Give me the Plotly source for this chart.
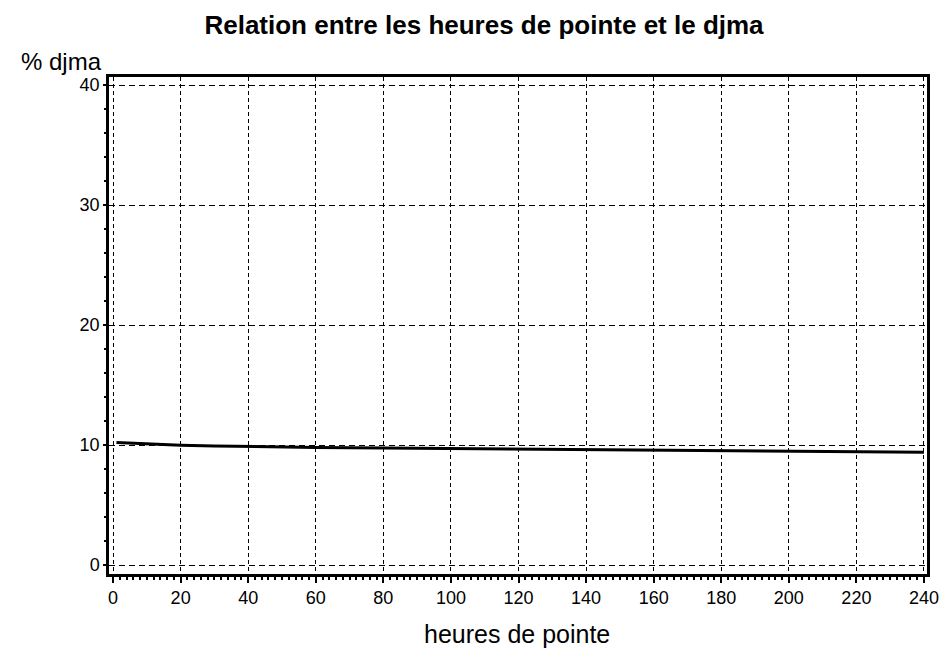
import plotly.graph_objects as go

heures = [1, 5, 10, 20, 30, 40, 60, 80, 100, 120, 140, 160, 180, 200, 220, 240]
pct_djma = [10.2, 10.15, 10.07, 9.98, 9.92, 9.87, 9.8, 9.75, 9.7, 9.66, 9.62, 9.57, 9.53, 9.5, 9.45, 9.4]

x_ticks = list(range(0, 241, 20))
y_ticks = [0, 10, 20, 30, 40]

font = "Liberation Sans, Arial, sans-serif"

W, H = 940, 648
L, R, T, B = 109, 13, 77, 74
plot_w = W - L - R
plot_h = H - T - B

fig = go.Figure()
fig.add_trace(go.Scatter(x=heures, y=pct_djma, mode="lines",
                         line=dict(color="black", width=3), showlegend=False))

fig.update_layout(
    width=W, height=H,
    paper_bgcolor="white", plot_bgcolor="white",
    margin=dict(l=L, r=R, t=T, b=B, autoexpand=False),
    title=dict(text="<b>Relation entre les heures de pointe et le djma</b>",
               x=484 / W, xanchor="center", y=1 - 25 / H, yanchor="middle",
               font=dict(family=font, size=26, color="black")),
    font=dict(family=font, size=18, color="black"),
)

fig.update_xaxes(
    range=[-1.2, 240.9], tickvals=x_ticks, ticktext=[str(v) for v in x_ticks],
    showgrid=True, gridcolor="black", griddash="4px,3px", gridwidth=1,
    showline=True, linecolor="black", linewidth=2.5, mirror=True,
    ticks="outside", ticklen=6, tickwidth=1.5, tickcolor="black",
    minor=dict(dtick=2, ticks="outside", ticklen=3, tickcolor="black", showgrid=False),
    zeroline=False,
    tickfont=dict(size=18),
)
fig.update_yaxes(
    range=[-0.75, 40.67], tickvals=y_ticks, ticktext=[str(v) for v in y_ticks],
    showgrid=True, gridcolor="black", griddash="6px,4px", gridwidth=1,
    showline=True, linecolor="black", linewidth=2.5, mirror=True,
    ticks="outside", ticklen=3, tickwidth=1.5, tickcolor="black",
    minor=dict(dtick=2, ticks="outside", ticklen=2, tickcolor="black", showgrid=False),
    zeroline=False,
    tickfont=dict(size=18),
)

fig.add_annotation(text="% djma", xref="paper", yref="paper",
                   x=(61 - L) / plot_w, y=1 + (T - 61) / plot_h, xanchor="center", yanchor="middle",
                   showarrow=False, font=dict(family=font, size=24, color="black"))
fig.add_annotation(text="heures de pointe", xref="paper", yref="paper",
                   x=(517 - L) / plot_w, y=-(634 - (H - B)) / plot_h, xanchor="center", yanchor="middle",
                   showarrow=False, font=dict(family=font, size=25, color="black"))

fig.write_html(
    "out.html",
    config={"displayModeBar": False},
    post_script="document.body.style.margin='0';document.body.style.overflow='hidden';"
                "document.documentElement.style.overflow='hidden';",
)
